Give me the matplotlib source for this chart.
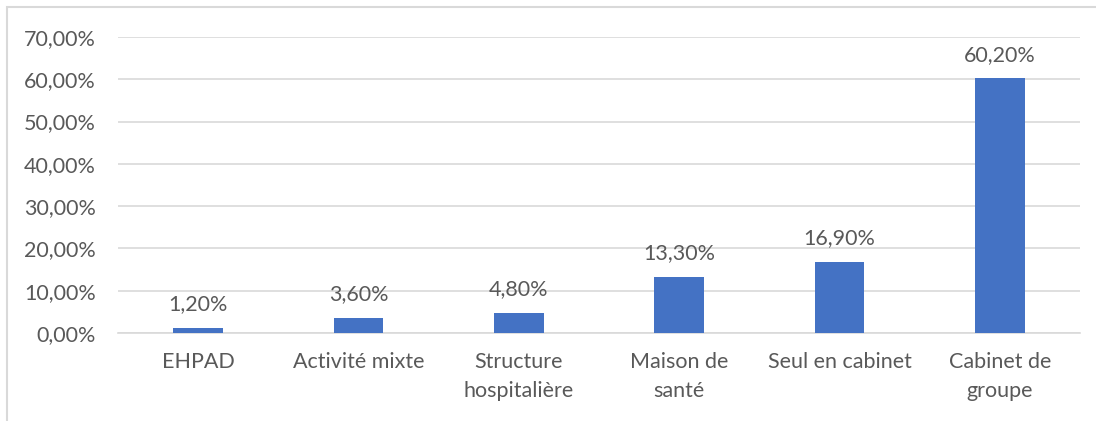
import matplotlib.pyplot as plt
from matplotlib.patches import Rectangle

categories = ["EHPAD", "Activité mixte", "Structure\nhospitalière", "Maison de\nsanté",
              "Seul en cabinet", "Cabinet de\ngroupe"]
values = [1.2, 3.6, 4.8, 13.3, 16.9, 60.2]
yticks = [0, 10, 20, 30, 40, 50, 60, 70]

plt.rcParams['font.family'] = ['Lato', 'DejaVu Sans']
grey = '#595959'

fig = plt.figure(figsize=(10.96, 4.21), dpi=100)
ax = fig.add_axes([118 / 1096, 1 - 333 / 421, (1080 - 118) / 1096, (333 - 37) / 421])

x = range(len(categories))
bars = ax.bar(x, values, width=0.31, color='#4472C4', zorder=3)
for b, v in zip(bars, values):
    ax.text(b.get_x() + b.get_width() / 2, v + 4.2, "{:.2f}%".format(v).replace('.', ','),
            ha='center', va='baseline', fontsize=15.5, color=grey)

ax.set_xlim(-0.5, len(categories) - 0.5)
ax.set_ylim(0, 70)
ax.set_yticks(yticks)
ax.set_yticklabels(["{:.2f}%".format(t).replace('.', ',') for t in yticks])
ax.set_xticks(list(x))
ax.set_xticklabels(categories, linespacing=1.55)
ax.tick_params(axis='both', length=0, labelsize=15.5, labelcolor=grey)
ax.tick_params(axis='y', pad=16)
ax.tick_params(axis='x', pad=14)
ax.grid(axis='y', color='#d9d9d9', lw=1.2, zorder=0)
for s in ['top', 'right', 'left']:
    ax.spines[s].set_visible(False)
ax.spines['bottom'].set_color('#d9d9d9')
ax.spines['bottom'].set_linewidth(1.2)

fig.patches.append(Rectangle((7 / 1096, -0.2), 1.5, 1.2 - 7 / 421, transform=fig.transFigure,
                             fill=False, edgecolor='#d9d9d9', lw=1.5))

fig.savefig("out.png", dpi=100)
